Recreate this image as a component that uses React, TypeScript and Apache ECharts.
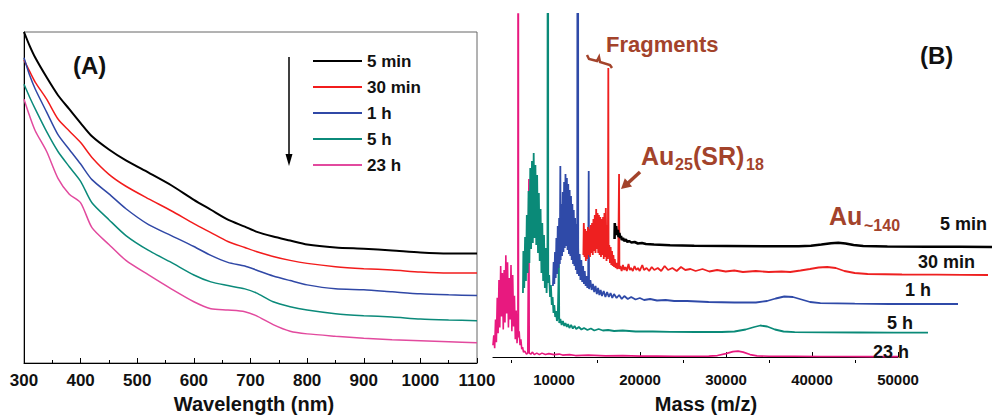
import { useEffect, useRef } from 'react';
import * as echarts from 'echarts';

const FONT = '"Liberation Sans", Arial, Helvetica, sans-serif';

// ---------- Panel A: UV-vis absorption spectra ----------
const WAVELENGTH = [300, 310, 320, 340, 360, 380, 400, 420, 450, 480, 520, 560, 600, 630, 660, 690, 710, 740, 770, 800, 850, 900, 950, 1000, 1050, 1100];
const ABS_5MIN = [1.0, 0.958, 0.922, 0.863, 0.809, 0.767, 0.725, 0.685, 0.645, 0.612, 0.575, 0.537, 0.493, 0.463, 0.433, 0.412, 0.397, 0.382, 0.37, 0.358, 0.349, 0.345, 0.34, 0.334, 0.331, 0.331];
const ABS_30MIN = [0.916, 0.881, 0.848, 0.797, 0.737, 0.701, 0.666, 0.621, 0.57, 0.534, 0.496, 0.46, 0.421, 0.394, 0.367, 0.349, 0.337, 0.322, 0.31, 0.301, 0.291, 0.285, 0.281, 0.275, 0.272, 0.272];
const ABS_1H = [0.922, 0.869, 0.827, 0.758, 0.69, 0.645, 0.601, 0.554, 0.511, 0.466, 0.418, 0.385, 0.352, 0.325, 0.304, 0.293, 0.281, 0.263, 0.249, 0.236, 0.224, 0.221, 0.215, 0.209, 0.206, 0.204];
const ABS_5H = [0.842, 0.803, 0.767, 0.699, 0.639, 0.593, 0.549, 0.484, 0.433, 0.385, 0.34, 0.304, 0.266, 0.245, 0.234, 0.224, 0.212, 0.185, 0.17, 0.16, 0.149, 0.143, 0.139, 0.133, 0.13, 0.128];
const ABS_23H = [0.797, 0.746, 0.701, 0.639, 0.558, 0.51, 0.484, 0.409, 0.358, 0.31, 0.266, 0.224, 0.185, 0.164, 0.16, 0.155, 0.143, 0.116, 0.096, 0.088, 0.081, 0.075, 0.07, 0.067, 0.064, 0.061];

const TIME_LABELS = ['5 min', '30 min', '1 h', '5 h', '23 h'];
const UV_COLORS = ['#000000', '#f21c1c', '#3048a6', '#0b8a7a', '#e24a9e'];

// ---------- Panel B: MALDI mass spectra, [m/z, intensity (a.u.)] ----------
const MS_23H: [number, number][] = [
  [2900, 12], [3000, 22], [3100, 9], [3200, 38], [3300, 15], [3400, 60], [3500, 24], [3600, 78], [3700, 30], [3800, 92],
  [3900, 41], [4000, 85], [4100, 28], [4200, 88], [4300, 35], [4400, 103], [4500, 44], [4600, 96], [4700, 30], [4800, 80],
  [4900, 38], [5000, 93], [5100, 26], [5200, 83], [5300, 31], [5400, 62], [5500, 18], [5600, 47], [5700, 14], [5800, 30],
  [5840, 999], [5870, 20], [5950, 26], [6050, 12], [6150, 18], [6250, 8], [6350, 10], [6450, 5], [6600, 6], [6800, 3],
  [6950, 4], [7080, 180], [7120, 4], [7300, 3], [7500, 5], [7700, 2.5], [8000, 4], [8300, 2.5], [8600, 4], [9000, 2.5],
  [9400, 3.5], [10000, 2.5], [10600, 3], [11000, 2], [11800, 2.5], [12500, 1.5], [14000, 2], [16000, 1.2], [18000, 1.5], [20000, 1],
  [22000, 1], [24000, 0.8], [26000, 0.8], [28000, 1], [29000, 1.5], [30000, 3.5], [30800, 5.5], [31400, 6], [32000, 5], [32800, 2.5],
  [33600, 1.2], [35000, 0.8], [38000, 0.8], [41000, 0.6], [44000, 0.6], [47000, 0.4], [50000, 0.4],
];
const MS_5H: [number, number][] = [
  [2900, 40], [2950, 82], [3050, 45], [3150, 96], [3250, 52], [3350, 118], [3450, 60], [3550, 142], [3650, 70], [3750, 165],
  [3850, 84], [3950, 172], [4050, 90], [4150, 180], [4250, 95], [4350, 168], [4450, 88], [4550, 158], [4650, 80], [4750, 140],
  [4850, 72], [4950, 124], [5050, 60], [5150, 110], [5250, 52], [5350, 98], [5450, 45], [5550, 85], [5650, 40], [5750, 74],
  [5810, 999], [5840, 50], [5950, 58], [6050, 36], [6150, 48], [6250, 28], [6350, 36], [6450, 20], [6550, 28], [6650, 16],
  [6750, 22], [6850, 12], [6950, 16], [7080, 70], [7120, 10], [7250, 14], [7400, 8], [7550, 12], [7700, 7], [7850, 10],
  [8000, 6], [8150, 9], [8300, 5], [8500, 8], [8700, 4.5], [8900, 7], [9100, 4], [9400, 6], [9700, 3.5], [10000, 5],
  [10400, 3], [10800, 4.5], [11200, 2.5], [11700, 4], [12200, 2.5], [12800, 3], [13500, 2], [14500, 2.5], [16000, 1.5], [18000, 1.5],
  [20000, 1.2], [23000, 1], [26000, 1], [27500, 1.5], [28800, 3.5], [29800, 6], [30500, 7.5], [31300, 6.5], [32200, 3.5], [33200, 1.5],
  [34500, 0.8], [38000, 0.6], [42000, 0.5], [46000, 0.4], [50000, 0.3],
];
const MS_1H: [number, number][] = [
  [2900, 18], [2980, 42], [3060, 20], [3140, 52], [3220, 26], [3300, 66], [3380, 30], [3460, 78], [3540, 36], [3620, 86],
  [3700, 40], [3760, 138], [3800, 44], [3880, 100], [3960, 48], [4040, 112], [4120, 52], [4200, 122], [4280, 56], [4360, 130],
  [4440, 58], [4520, 126], [4600, 54], [4680, 120], [4760, 50], [4840, 114], [4920, 48], [5000, 108], [5080, 44], [5160, 100],
  [5240, 40], [5320, 94], [5400, 38], [5480, 86], [5560, 34], [5640, 80], [5720, 30], [5800, 999], [5840, 56], [5920, 28],
  [6000, 50], [6100, 24], [6200, 44], [6300, 22], [6400, 38], [6500, 20], [6600, 33], [6700, 18], [6800, 28], [6900, 16],
  [7000, 26], [7060, 133], [7100, 15], [7250, 24], [7400, 14], [7550, 20], [7700, 12], [7850, 18], [8000, 10], [8150, 16],
  [8300, 9], [8450, 14], [8600, 8], [8800, 13], [9000, 7], [9200, 12], [9400, 7], [9600, 11], [9800, 6], [10000, 10],
  [10300, 6], [10600, 9], [10900, 5], [11200, 8], [11600, 5], [12000, 7], [12500, 4.5], [13000, 6], [13500, 4], [14200, 5],
  [15000, 3.5], [16000, 4], [17000, 3], [18500, 3], [21000, 2], [24000, 1.5], [26500, 1.5], [27800, 3], [28800, 5.5], [29800, 7.5],
  [30800, 7], [31800, 4.5], [32800, 2], [34000, 0.8], [38000, 0.3], [42000, 0], [46000, 0], [50000, 0],
];
const MS_30MIN: [number, number][] = [
  [2950, 20], [3000, 52], [3080, 18], [3160, 46], [3240, 14], [3320, 44], [3400, 16], [3480, 48], [3560, 20], [3640, 46],
  [3720, 18], [3800, 50], [3880, 22], [3960, 52], [4040, 20], [4120, 56], [4200, 24], [4280, 60], [4360, 22], [4440, 66],
  [4520, 26], [4600, 62], [4680, 22], [4760, 60], [4840, 20], [4920, 58], [5000, 18], [5080, 56], [5160, 20], [5240, 58],
  [5320, 16], [5400, 62], [5480, 18], [5560, 67], [5640, 14], [5720, 50], [5800, 16], [5850, 207], [5880, 20], [5960, 30],
  [6040, 12], [6120, 28], [6200, 10], [6280, 24], [6360, 9], [6440, 20], [6520, 8], [6600, 16], [6700, 7], [6800, 12],
  [6900, 6], [7000, 10], [7100, 101], [7140, 6], [7250, 9], [7400, 4], [7550, 10], [7700, 5], [7850, 8], [8000, 4],
  [8200, 11], [8350, 5], [8500, 7], [8700, 4], [8900, 9], [9100, 5], [9300, 7], [9500, 4], [9800, 10], [10000, 5],
  [10300, 7], [10600, 4], [10900, 8], [11200, 5], [11600, 7], [12000, 4], [12400, 9], [12800, 5], [13300, 7], [13800, 4],
  [14300, 8], [14800, 5], [15400, 6], [16000, 4], [16800, 6], [17600, 3.5], [18500, 5], [19500, 3.5], [20500, 4.5], [21500, 3],
  [23000, 4], [24500, 3], [26000, 3.5], [27000, 3], [28200, 4.5], [29300, 6], [30300, 7.5], [31300, 8], [32300, 7], [33300, 4],
  [34500, 2], [36000, 1], [40000, 0.5], [44000, 0.3], [47000, 0.2], [50000, 0],
];
const MS_5MIN: [number, number][] = [
  [3100, 8], [3130, 24], [3200, 14], [3300, 21], [3400, 12], [3500, 17], [3600, 10], [3700, 14], [3800, 9], [3900, 11],
  [4000, 7], [4150, 9], [4300, 6], [4500, 7.5], [4700, 5], [4900, 6], [5200, 4.5], [5600, 5], [6000, 3.5], [6500, 4],
  [7000, 3], [8000, 2.5], [10000, 1.8], [13000, 1.2], [17000, 1], [22000, 0.8], [26000, 0.8], [27500, 1.2], [28800, 2.5], [30000, 3.8],
  [30900, 4.2], [31800, 3.5], [32800, 2], [34000, 1], [37000, 0.5], [42000, 0.3], [46000, 0.2], [50000, 0],
];

// bottom trace first; each later trace sits higher and further right
const MS_TRACES = [MS_23H, MS_5H, MS_1H, MS_30MIN, MS_5MIN];
const MS_LABELS = ['23 h', '5 h', '1 h', '30 min', '5 min'];
const MS_COLORS = ['#e8197f', '#0a8a78', '#2f4aa8', '#ee2020', '#000000'];
const MS_WIDTHS = [1.6, 1.8, 1.8, 1.8, 2.6];
const MASS_TICKS = [10000, 20000, 30000, 40000, 50000];
const MASS_MINOR_TICKS = [5000, 15000, 25000, 35000, 45000];
const MASS_MIN = 2900;
const MASS_MAX = 50000;

// ---------- layout (px) ----------
const A_LEFT = 24, A_TOP = 32, A_W = 453, A_H = 335;
const B_LEFT = 492.94, B_W = 405.06, B_TOP = 14, AXIS_Y = 367;
const B_SHIFT = 30;
const B_BASE = [361, 333, 304, 275, 247];
const B_LABEL_POS: [number, number][] = [[873, 351.5], [887, 322.5], [905, 290], [918, 261.5], [940, 223.5]];
const BROWN = '#a3432b';

const plain = (v: number) => String(v);

function buildOption(): echarts.EChartsCoreOption {
  const grids: any[] = [
    { left: A_LEFT, top: A_TOP, width: A_W, height: A_H, show: true, borderColor: '#666', borderWidth: 1, containLabel: false },
  ];
  const xAxes: any[] = [
    {
      gridIndex: 0, type: 'value', min: 300, max: 1100, interval: 100,
      axisLine: { show: true, lineStyle: { color: '#000', width: 1 } },
      axisTick: { show: true, inside: true, length: 5, lineStyle: { color: '#000' } },
      minorTick: { show: true, splitNumber: 2, length: 3, lineStyle: { color: '#000' } },
      splitLine: { show: false },
      axisLabel: { formatter: plain, color: '#111', fontFamily: FONT, fontWeight: 'bold', fontSize: 17, margin: 9 },
      name: 'Wavelength (nm)', nameLocation: 'middle', nameGap: 31,
      nameTextStyle: { color: '#111', fontFamily: FONT, fontWeight: 'bold', fontSize: 20, padding: [0, 0, 0, 7] },
    },
  ];
  const yAxes: any[] = [
    {
      gridIndex: 0, type: 'value', min: 0, max: 1,
      axisLine: { show: true, lineStyle: { color: '#000', width: 1 } },
      axisTick: { show: false }, axisLabel: { show: false }, splitLine: { show: false },
    },
  ];

  MS_TRACES.forEach((_, i) => {
    const base = B_BASE[i];
    grids.push({ left: B_LEFT + B_SHIFT * i, top: B_TOP, width: B_W, height: base + (AXIS_Y - B_BASE[0]) - B_TOP, containLabel: false });
    const visible = i === 0;
    xAxes.push({
      gridIndex: i + 1, type: 'value', min: MASS_MIN, max: MASS_MAX, show: visible,
      axisLine: { show: visible, lineStyle: { color: '#000', width: 1 } },
      axisTick: { show: visible, inside: true, length: 5, customValues: MASS_TICKS, lineStyle: { color: '#000' } },
      splitLine: { show: false },
      axisLabel: { show: visible, formatter: plain, customValues: MASS_TICKS, color: '#111', fontFamily: FONT, fontWeight: 'bold', fontSize: 15, margin: 9 },
      name: visible ? 'Mass (m/z)' : '', nameLocation: 'middle', nameGap: 31,
      nameTextStyle: { color: '#111', fontFamily: FONT, fontWeight: 'bold', fontSize: 20, padding: [0, 0, 0, 21] },
    });
    yAxes.push({
      gridIndex: i + 1, type: 'value', min: -(AXIS_Y - B_BASE[0]), max: base - B_TOP, show: false,
      splitLine: { show: false },
    });
  });
  // minor ticks of the mass axis
  xAxes.push({
    gridIndex: 1, type: 'value', min: MASS_MIN, max: MASS_MAX, position: 'bottom',
    axisLine: { show: false }, axisLabel: { show: false }, splitLine: { show: false },
    axisTick: { show: true, inside: true, length: 3, customValues: MASS_MINOR_TICKS, lineStyle: { color: '#000' } },
  });

  const uvData = [ABS_5MIN, ABS_30MIN, ABS_1H, ABS_5H, ABS_23H];
  const series: any[] = uvData.map((vals, i) => ({
    name: TIME_LABELS[i], type: 'line', xAxisIndex: 0, yAxisIndex: 0,
    data: WAVELENGTH.map((w, k) => [w, vals[k]]),
    smooth: 0.25, symbol: 'none', showSymbol: false,
    lineStyle: { color: UV_COLORS[i], width: i === 0 ? 2 : 1.5 },
    itemStyle: { color: UV_COLORS[i] },
  }));
  MS_TRACES.forEach((trace, i) => {
    series.push({
      name: 'MS ' + MS_LABELS[i], type: 'line', xAxisIndex: i + 1, yAxisIndex: i + 1,
      data: trace, symbol: 'none', showSymbol: false, clip: true,
      lineStyle: { color: MS_COLORS[i], width: MS_WIDTHS[i] },
      itemStyle: { color: MS_COLORS[i] },
    });
  });

  const text = (t: string, x: number, y: number, font: string, fill = '#111') => ({
    type: 'text', z: 100,
    style: { text: t, x, y, font, fill, align: 'left', verticalAlign: 'middle', textAlign: 'left', textVerticalAlign: 'middle' },
  });
  const bold = (px: number) => `bold ${px}px ${FONT}`;

  const graphics: any[] = [
    text('(A)', 73, 65, bold(24)),
    text('(B)', 920, 55, bold(24)),
    // time arrow next to the legend
    { type: 'line', z: 100, shape: { x1: 289, y1: 57, x2: 289, y2: 157 }, style: { stroke: '#000', lineWidth: 1.5 } },
    { type: 'polygon', z: 100, shape: { points: [[285.5, 154], [292.5, 154], [289, 166]] }, style: { fill: '#000' } },
    // annotations of panel B
    text('Fragments', 606, 44, bold(22), BROWN),
    { type: 'polyline', z: 100, shape: { points: [[587, 55], [589, 59], [597, 61], [599, 57], [600, 62], [610, 65], [612, 68]] }, style: { stroke: BROWN, lineWidth: 2.5, fill: null } },
    text('Au', 641, 156, bold(25), BROWN),
    text('25', 675, 164, bold(16), BROWN),
    text('(SR)', 693, 156, bold(25), BROWN),
    text('18', 746, 164, bold(16), BROWN),
    { type: 'line', z: 100, shape: { x1: 640, y1: 172, x2: 627, y2: 184 }, style: { stroke: BROWN, lineWidth: 3.5 } },
    { type: 'polygon', z: 100, shape: { points: [[621, 189], [624.8, 178.3], [632.1, 186.5]] }, style: { fill: BROWN } },
    text('Au', 829, 216, bold(25), BROWN),
    text('~140', 864, 225, bold(16), BROWN),
  ];
  MS_LABELS.forEach((lab, i) => {
    graphics.push(text(lab, B_LABEL_POS[i][0], B_LABEL_POS[i][1], bold(18)));
  });

  return {
    animation: false,
    backgroundColor: '#ffffff',
    grid: grids,
    xAxis: xAxes,
    yAxis: yAxes,
    legend: {
      data: TIME_LABELS, orient: 'vertical', left: 313, top: 52.5, padding: 0,
      icon: 'rect', itemWidth: 49, itemHeight: 2, itemGap: 9, selectedMode: false,
      textStyle: { color: '#111', fontFamily: FONT, fontWeight: 'bold', fontSize: 17 },
    },
    series,
    graphic: graphics,
  };
}

export default function App() {
  const ref = useRef<HTMLDivElement>(null);
  useEffect(() => {
    if (!ref.current) return;
    const chart = echarts.init(ref.current, null, { renderer: 'svg' });
    chart.setOption(buildOption());
    return () => chart.dispose();
  }, []);
  return <div ref={ref} style={{ position: 'fixed', left: 0, top: 0, width: 992, height: 419, background: '#fff' }} />;
}
